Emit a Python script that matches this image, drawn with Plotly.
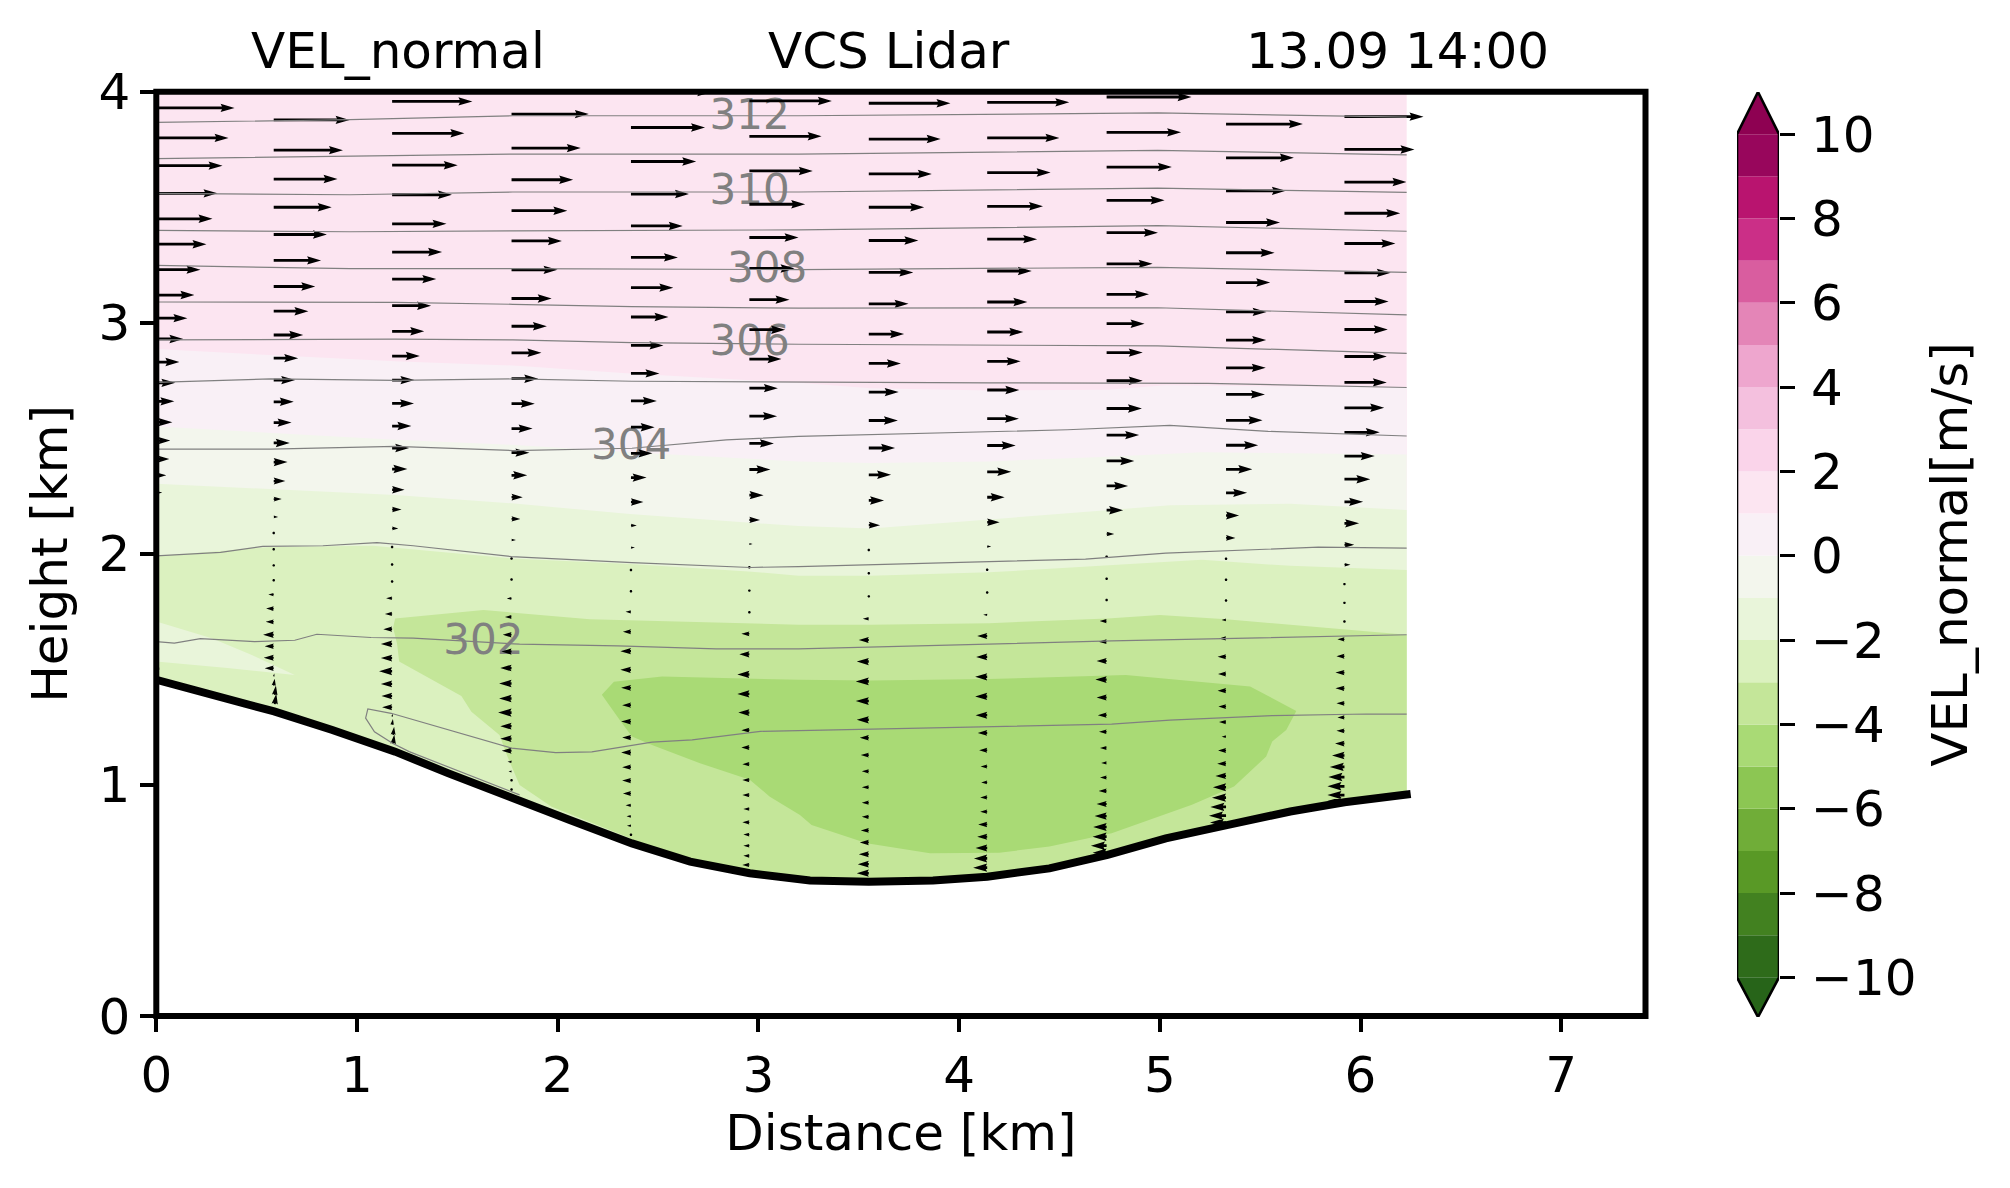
import math
import plotly.graph_objects as go

# ---------- axes ----------
x_ticks = [0, 1, 2, 3, 4, 5, 6, 7]
y_ticks = [0, 1, 2, 3, 4]
x_limit = 7.42
y_limit = 4.0
cbar_ticks = [-10, -8, -6, -4, -2, 0, 2, 4, 6, 8, 10]
cbar_levels = list(range(-10, 11))
cbar_colors = ["#2e6b1a", "#428120", "#599926", "#70ad38", "#8cc653", "#a9da75", "#c4e699",
               "#dbf1bf", "#e9f5da", "#f3f6ed", "#f9f0f6", "#fce5f1", "#fad4ea", "#f4c0de",
               "#eea6ce", "#e485b7", "#d95d9f", "#cb2f87", "#b9146f", "#98065c"]
under_color = "#276419"
over_color = "#8e0152"

# ---------- terrain ----------
terrain_x = [0, .276, .587, .877, 1.19, 1.456, 1.77, 2.06, 2.37, 2.66, 2.957, 3.257, 3.55, 3.87, 4.14, 4.45, 4.74,
             5.03, 5.34, 5.65, 5.92, 6.25]
terrain_y = [1.455, 1.39, 1.318, 1.238, 1.144, 1.05, .942, .848, .747, .668, .618, .586, .581, .586, .603, .639,
             .697, .769, .827, .885, .925, .961]

# ---------- isotach boundaries, top of each band ----------
edge_x = 6.23
top_1_x = [0, 6.23]
top_1_y = [4.0, 4.0]
top_0to1_x = [0, 1.19, 1.777, 2.36, 3.2, 3.56, 4.15, 4.74, 5.03, 6.23]
top_0to1_y = [2.886, 2.833, 2.815, 2.78, 2.74, 2.717, 2.707, 2.71, 2.73, 2.72]
top_m1to0_x = [0, 1.19, 1.77, 2.36, 3.2, 3.56, 4.15, 4.74, 5.21, 6.23]
top_m1to0_y = [2.551, 2.494, 2.472, 2.44, 2.40, 2.393, 2.40, 2.42, 2.44, 2.43]
top_m2tom1_x = [0, 1.19, 1.77, 2.36, 3.2, 3.56, 4.15, 4.74, 5.05, 5.65, 6.23]
top_m2tom1_y = [2.303, 2.255, 2.219, 2.172, 2.12, 2.11, 2.149, 2.19, 2.21, 2.217, 2.19]
top_m3tom2_x = [0, .57, 1.08, 1.77, 2.36, 2.95, 3.2, 3.56, 4.15, 4.74, 5.21, 5.65, 6.23]
top_m3tom2_y = [1.99, 2.03, 2.035, 1.98, 1.956, 1.924, 1.905, 1.905, 1.92, 1.95, 1.974, 1.948, 1.93]
island_x = [0, .276, .476, .69, .367, 0]
island_y = [1.707, 1.635, 1.562, 1.476, 1.505, 1.534]
patch_m4_x = [1.19, 1.63, 2.16, 3.2, 3.56, 4.15, 4.74, 5.0, 5.33, 6.23, 6.23, 2.37, 2.36, 1.97, 1.81, 1.75, 1.71,
              1.57, 1.52, 1.21, 1.2, 1.18]
patch_m4_y = [1.72, 1.757, 1.717, 1.693, 1.693, 1.70, 1.72, 1.735, 1.717, 1.65, 0, 0, .77, .906, 1.0, 1.122,
              1.216, 1.317, 1.385, 1.534, 1.61, 1.68]
patch_m5_x = [2.22, 2.28, 2.52, 3.2, 3.56, 4.15, 4.83, 5.45, 5.68, 5.63, 5.56, 5.53, 5.37, 5.16, 4.76, 4.45, 4.2,
              3.855, 3.54, 3.265, 3.207, 3.057, 2.957, 2.709, 2.47, 2.37, 2.31]
patch_m5_y = [1.39, 1.447, 1.469, 1.455, 1.452, 1.458, 1.476, 1.426, 1.32, 1.238, 1.188, 1.123, .993, .914, .791,
              .733, .707, .704, .748, .827, .870, .949, 1.022, 1.094, 1.173, 1.21, 1.28]

# ---------- potential temperature contours ----------
theta_lines_x = [
    [0, .965, 1.777, 3.2, 4.99, 6.23],
    [0, .965, 1.777, 3.2, 4.99, 6.23],
    [0, .965, 1.777, 3.2, 4.99, 6.23],
    [0, .965, 1.777, 3.2, 4.99, 6.23],
    [0, .965, 1.777, 3.2, 4.99, 6.23],
    [0, .965, 1.19, 1.777, 2.37, 3.2, 4.99, 6.23],
    [0, 1.19, 1.777, 2.37, 3.2, 4.99, 6.23],
    [0, .57, 1.19, 1.777, 2.37, 3.2, 4.15, 5.24, 6.23],
    [0, .57, 1.19, 1.777, 2.37, 2.84, 3.2, 4.54, 5.05, 5.54, 6.23],
    [0, .32, .53, .83, 1.10, 1.28, 1.77, 2.37, 2.96, 3.2, 4.63, 5.03, 5.79, 6.23],
    [0, .09, .22, .49, .69, .8, 1.07, 1.28, 1.81, 2.3, 2.79, 3.2, 4.76, 6.23],
    [1.81, 1.26, 1.177, 1.087, 1.043, 1.054, 1.17, 1.77, 1.99, 2.17, 2.47, 2.67, 3.01, 3.2, 4.76, 5.05, 5.56, 6.03, 6.23],
]
theta_lines_y = [
    [3.867, 3.879, 3.896, 3.896, 3.908, 3.890],
    [3.71, 3.72, 3.73, 3.73, 3.746, 3.727],
    [3.56, 3.554, 3.566, 3.566, 3.583, 3.564],
    [3.40, 3.394, 3.398, 3.402, 3.42, 3.396],
    [3.248, 3.234, 3.234, 3.23, 3.24, 3.218],
    [3.09, 3.088, 3.088, 3.08, 3.07, 3.063, 3.065, 3.034],
    [2.926, 2.929, 2.926, 2.914, 2.907, 2.90, 2.868],
    [2.742, 2.757, 2.751, 2.757, 2.747, 2.743, 2.74, 2.738, 2.72],
    [2.453, 2.453, 2.465, 2.447, 2.457, 2.493, 2.508, 2.537, 2.556, 2.53, 2.51],
    [1.991, 2.006, 2.032, 2.035, 2.049, 2.035, 1.988, 1.962, 1.941, 1.945, 1.977, 2.003, 2.029, 2.025],
    [1.62, 1.614, 1.633, 1.62, 1.626, 1.652, 1.638, 1.635, 1.609, 1.602, 1.589, 1.589, 1.623, 1.65],
    [.957, 1.144, 1.18, 1.23, 1.289, 1.329, 1.31, 1.159, 1.14, 1.143, 1.185, 1.195, 1.232, 1.235, 1.263, 1.28, 1.3,
     1.307, 1.306],
]
theta_labels = ["312", "310", "308", "306", "304", "302"]
theta_label_x = [2.956, 2.956, 3.043, 2.956, 2.366, 1.63]
theta_label_y = [3.883, 3.561, 3.222, 2.904, 2.457, 1.612]

# ---------- wind arrows, one column per profile ----------
col_x = [0.01, .585, 1.175, 1.77, 2.365, 2.955, 3.55, 4.14, 4.735, 5.33, 5.92]
col_height = [
    [3.93, 3.80, 3.68, 3.56, 3.45, 3.34, 3.23, 3.12, 3.02, 2.93, 2.83, 2.74, 2.66, 2.57, 2.49, 2.41, 2.34, 2.265],
    [3.878, 3.747, 3.622, 3.50, 3.382, 3.27, 3.157, 3.05, 2.947, 2.847, 2.752, 2.658, 2.568, 2.48, 2.397, 2.315, 2.237,
     2.16, 2.09, 2.02, 1.95, 1.886, 1.824, 1.763, 1.706, 1.65, 1.6, 1.55, 1.505],
    [3.958, 3.82, 3.682, 3.554, 3.428, 3.306, 3.189, 3.074, 2.963, 2.856, 2.752, 2.651, 2.553, 2.458, 2.367, 2.277,
     2.192, 2.11, 2.03, 1.954, 1.88, 1.808, 1.74, 1.674, 1.61, 1.549, 1.492, 1.437, 1.385, 1.336],
    [3.903, 3.756, 3.619, 3.485, 3.354, 3.229, 3.105, 2.985, 2.87, 2.758, 2.65, 2.542, 2.438, 2.34, 2.245, 2.151, 2.06,
     1.98, 1.889, 1.807, 1.727, 1.65, 1.577, 1.506, 1.439, 1.374, 1.313, 1.254, 1.2, 1.148, 1.1, 1.058, 1.02, .98],
    [3.998, 3.845, 3.698, 3.557, 3.419, 3.283, 3.152, 3.025, 2.902, 2.781, 2.662, 2.548, 2.435, 2.33, 2.224, 2.123,
     2.027, 1.93, 1.838, 1.749, 1.663, 1.579, 1.498, 1.42, 1.345, 1.274, 1.205, 1.14, 1.077, 1.019, .963, .912, .864,
     .823, .784],
    [3.96, 3.807, 3.657, 3.513, 3.369, 3.235, 3.1, 2.97, 2.843, 2.717, 2.596, 2.478, 2.365, 2.254, 2.147, 2.043, 1.942,
     1.841, 1.747, 1.654, 1.565, 1.478, 1.394, 1.313, 1.237, 1.162, 1.09, 1.021, .956, .896, .838, .785, .737, .693,
     .654],
    [3.95, 3.795, 3.644, 3.5, 3.356, 3.218, 3.082, 2.951, 2.824, 2.7, 2.577, 2.458, 2.342, 2.231, 2.124, 2.017, 1.916,
     1.816, 1.719, 1.627, 1.534, 1.448, 1.363, 1.282, 1.204, 1.129, 1.059, .99, .923, .862, .803, .751, .7, .657, .618],
    [3.954, 3.8, 3.65, 3.504, 3.362, 3.224, 3.09, 2.96, 2.833, 2.709, 2.585, 2.469, 2.355, 2.245, 2.137, 2.032, 1.931,
     1.833, 1.736, 1.644, 1.554, 1.468, 1.383, 1.302, 1.225, 1.15, 1.08, 1.011, .946, .884, .829, .776, .727, .682,
     .642],
    [3.977, 3.824, 3.674, 3.53, 3.39, 3.255, 3.123, 2.996, 2.871, 2.749, 2.629, 2.514, 2.402, 2.294, 2.189, 2.086,
     1.988, 1.892, 1.8, 1.709, 1.62, 1.536, 1.456, 1.378, 1.302, 1.23, 1.16, 1.095, 1.032, .974, .917, .865, .818, .776,
     .737, .707],
    [3.86, 3.714, 3.571, 3.434, 3.303, 3.174, 3.047, 2.925, 2.805, 2.69, 2.578, 2.47, 2.366, 2.264, 2.166, 2.069, 1.979,
     1.888, 1.798, 1.714, 1.634, 1.555, 1.48, 1.408, 1.339, 1.272, 1.209, 1.149, 1.092, 1.039, .99, .945, .905, .867,
     .837],
    [3.892, 3.75, 3.609, 3.474, 3.343, 3.216, 3.092, 2.971, 2.854, 2.742, 2.632, 2.526, 2.423, 2.323, 2.225, 2.132,
     2.039, 1.953, 1.869, 1.788, 1.707, 1.63, 1.557, 1.486, 1.418, 1.353, 1.292, 1.234, 1.179, 1.127, 1.078, 1.034,
     .994, .956, .93],
]
col_u = [
    [.38, .35, .32, .295, .27, .24, .21, .18, .145, .125, .105, .085, .08, .07, .06, .055, .04, .02],
    [.378, .345, .318, .289, .265, .236, .207, .173, .147, .122, .107, .1, .089, .08, .069, .058, .04, .022, .003, 0,
     -.007, -.01, -.027, -.038, -.04, -.053, -.045, -.05, -.045],
    [.40, .36, .327, .298, .271, .249, .22, .194, .16, .138, .111, .109, .096, .085, .076, .062, .047, .031, 0, 0,
     -.003, -.03, -.036, -.044, -.056, -.056, -.065, -.056, -.053, -.05],
    [.385, .345, .307, .278, .251, .229, .2, .176, .149, .133, .116, .105, .089, .078, .056, .044, .022, 0, 0, -.024,
     -.033, -.044, -.051, -.056, -.062, -.062, -.067, -.056, -.056, -.049, -.02, -.015, -.01, 0],
    [.40, .369, .325, .289, .258, .234, .211, .187, .162, .142, .129, .118, .107, .078, .062, .029, .02, 0, 0, -.027,
     -.04, -.053, -.053, -.049, -.044, -.049, -.044, -.049, -.044, -.044, -.04, -.027, -.022, -.02, -.01],
    [.411, .36, .316, .278, .245, .225, .2, .178, .16, .142, .138, .122, .105, .071, .053, .016, 0, 0, -.01, -.04,
     -.05, -.06, -.06, -.055, -.04, -.04, -.035, -.035, -.035, -.03, -.035, -.03, -.03, -.03, -.035],
    [.407, .358, .314, .276, .247, .222, .198, .176, .16, .149, .145, .131, .111, .076, .056, .013, 0, -.005, -.03,
     -.05, -.06, -.065, -.065, -.06, -.045, -.04, -.035, -.035, -.035, -.035, -.04, -.045, -.05, -.055, -.06],
    [.409, .36, .316, .278, .249, .222, .2, .18, .167, .16, .158, .142, .12, .087, .062, .02, 0, -.005, -.02, -.05,
     -.055, -.06, -.06, -.058, -.047, -.04, -.033, -.03, -.035, -.035, -.045, -.05, -.058, -.066, -.07],
    [.423, .371, .325, .289, .256, .229, .211, .189, .18, .18, .176, .162, .138, .107, .082, .038, .01, 0, 0, -.035,
     -.04, -.05, -.056, -.05, -.044, -.038, -.033, -.027, -.033, -.04, -.05, -.06, -.067, -.07, -.078, -.07],
    [.383, .338, .298, .269, .242, .22, .202, .2, .198, .194, .182, .16, .131, .105, .065, .047, .009, 0, 0, -.022,
     -.035, -.042, -.04, -.042, -.038, -.035, -.022, -.04, -.044, -.053, -.065, -.07, -.078, -.085, -.08],
    [.394, .349, .309, .278, .254, .231, .22, .216, .211, .211, .198, .176, .151, .129, .093, .073, .049, .03, 0, 0,
     -.01, -.035, -.04, -.045, -.045, -.04, -.035, -.04, -.047, -.062, -.073, -.08, -.085, -.085, -.085],
]
# arrows close to the ground, which follow the slope
ground_x = [0.005, 0.005, 0.005, .585, .585, .59, .59, 1.175, 1.175, 1.18, 1.18]
ground_y = [1.56, 1.53, 1.50, 1.47, 1.43, 1.39, 1.35, 1.296, 1.26, 1.217, 1.178]
ground_u = [.006, .006, .006, .003, .005, .006, .008, .003, .004, .005, .006]
ground_v = [.02, .025, .03, .012, .03, .04, .045, .012, .025, .035, .04]

# ---------- drawing helpers ----------
PX_X = 200.7
PX_Y = 231.0
SHAFT = 2.8


def add_arrow(xs, ys, x0, y0, u, v):
    dx, dy = u * PX_X, v * PX_Y
    length = math.hypot(dx, dy)
    if length < SHAFT:
        r = 1.4
        pts = [(r * math.cos(i * math.pi / 3), r * math.sin(i * math.pi / 3)) for i in range(6)]
        ca, sa = 1.0, 0.0
    else:
        hl, ha, hw, w = 5 * SHAFT, 4.5 * SHAFT, 3 * SHAFT, SHAFT
        if length < hl:
            s = length / hl
            hl, ha, hw, w = hl * s, ha * s, hw * s, w * s
        pts = [(0, w / 2), (length - ha, w / 2), (length - hl, hw / 2), (length, 0),
               (length - hl, -hw / 2), (length - ha, -w / 2), (0, -w / 2)]
        ca, sa = dx / length, dy / length
    for px, py in pts + pts[:1]:
        xs.append(x0 + (px * ca - py * sa) / PX_X)
        ys.append(y0 + (px * sa + py * ca) / PX_Y)
    xs.append(None)
    ys.append(None)


def fill_trace(x, y, color, xaxis="x", yaxis="y"):
    return go.Scatter(x=x, y=y, mode="lines", fill="toself", fillcolor=color, line=dict(width=0),
                      hoverinfo="skip", showlegend=False, xaxis=xaxis, yaxis=yaxis)


def band(x, y, color):
    return fill_trace(list(x) + [edge_x, 0], list(y) + [0, 0], color)


fig = go.Figure()
fig.add_trace(band(top_1_x, top_1_y, cbar_colors[11]))
fig.add_trace(band(top_0to1_x, top_0to1_y, cbar_colors[10]))
fig.add_trace(band(top_m1to0_x, top_m1to0_y, cbar_colors[9]))
fig.add_trace(band(top_m2tom1_x, top_m2tom1_y, cbar_colors[8]))
fig.add_trace(band(top_m3tom2_x, top_m3tom2_y, cbar_colors[7]))
fig.add_trace(fill_trace(island_x, island_y, cbar_colors[8]))
fig.add_trace(fill_trace(patch_m4_x, patch_m4_y, cbar_colors[6]))
fig.add_trace(fill_trace(patch_m5_x, patch_m5_y, cbar_colors[5]))
# ground: everything below the terrain is blank
fig.add_trace(fill_trace(terrain_x + [terrain_x[-1], 0], terrain_y + [0, 0], "#ffffff"))

fig.add_trace(go.Scatter(x=theta_label_x, y=theta_label_y, mode="text", text=theta_labels,
                         textfont=dict(family="DejaVu Sans", size=42, color="#808080"),
                         hoverinfo="skip", showlegend=False))

arrow_x, arrow_y = [], []
for cx, heights, us in zip(col_x, col_height, col_u):
    for h, u in zip(heights, us):
        add_arrow(arrow_x, arrow_y, cx, h, u, 0.0)
for gx, gy, gu, gv in zip(ground_x, ground_y, ground_u, ground_v):
    add_arrow(arrow_x, arrow_y, gx, gy, gu, gv)
fig.add_trace(fill_trace(arrow_x, arrow_y, "#000000"))

for lx, ly in zip(theta_lines_x, theta_lines_y):
    fig.add_trace(go.Scatter(x=lx, y=ly, mode="lines", line=dict(color="#808080", width=1.2),
                             hoverinfo="skip", showlegend=False))

fig.add_trace(go.Scatter(x=terrain_x, y=terrain_y, mode="lines", line=dict(color="#000000", width=8),
                         hoverinfo="skip", showlegend=False))

# ---------- colour bar ----------
fig.add_trace(go.Bar(x=[0] * 20, y=[1] * 20, base=cbar_levels[:-1], width=1.0,
                     marker=dict(color=cbar_colors, line=dict(width=0)),
                     hoverinfo="skip", showlegend=False, xaxis="x2", yaxis="y2"))
tip_low = -10.94
tip_high = 11.0
fig.add_trace(fill_trace([-.5, 0, .5], [-10, tip_low, -10], under_color, "x2", "y2"))
fig.add_trace(fill_trace([-.5, 0, .5], [10, tip_high, 10], over_color, "x2", "y2"))
fig.add_trace(go.Scatter(x=[-.5, 0, .5, .5, 0, -.5, -.5], y=[-10, tip_low, -10, 10, tip_high, 10, -10],
                         mode="lines", line=dict(color="#000000", width=2.6), cliponaxis=False,
                         hoverinfo="skip", showlegend=False, xaxis="x2", yaxis="y2"))

FONT = "DejaVu Sans"
tick_font = dict(family=FONT, size=50, color="#000000")
W, H = 2010, 1188
fig.update_layout(
    width=W, height=H, autosize=False, margin=dict(l=0, r=0, t=0, b=0, pad=0),
    paper_bgcolor="#ffffff", plot_bgcolor="#ffffff", barmode="overlay", showlegend=False,
    font=dict(family=FONT, color="#000000"),
    xaxis=dict(domain=[156.3 / W, 1645.5 / W], range=[0, x_limit], tickvals=x_ticks, ticks="outside", ticklen=15,
               tickwidth=3.6, tickcolor="#000", tickfont=tick_font, showgrid=False, zeroline=False, showline=False,
               automargin=False, title=dict(text="Distance [km]", font=tick_font, standoff=8), anchor="y"),
    yaxis=dict(domain=[(H - 1016) / H, (H - 91.7) / H], range=[0, y_limit], tickvals=y_ticks, ticks="outside",
               ticklen=15, tickwidth=3.6, tickcolor="#000", tickfont=tick_font, showgrid=False, zeroline=False,
               automargin=False, showline=False, title=dict(text="Height [km]", font=tick_font, standoff=14),
               anchor="x"),
    xaxis2=dict(domain=[1737 / W, 1779 / W], range=[-.5, .5], visible=False, anchor="y2", automargin=False),
    yaxis2=dict(domain=[(H - 1017) / H, (H - 92) / H], range=[tip_low, tip_high], tickvals=cbar_ticks,
                ticks="outside", ticklen=15, tickwidth=2.6, tickcolor="#000", tickfont=tick_font, side="right",
                ticklabelstandoff=6, anchor="x2", showgrid=False, zeroline=False, showline=False, automargin=False,
                title=dict(text="VEL_normal[m/s]", font=tick_font, standoff=16)),
    shapes=[dict(type="rect", xref="x domain", yref="y domain", x0=0, x1=1, y0=0, y1=1,
                 line=dict(color="#000000", width=6), layer="above")],
    annotations=[
        dict(text="VEL_normal", x=1.204, xref="x", y=1, yref="y domain", yanchor="bottom", yshift=10,
             showarrow=False, font=tick_font),
        dict(text="VCS Lidar", x=3.65, xref="x", y=1, yref="y domain", yanchor="bottom", yshift=10,
             showarrow=False, font=tick_font),
        dict(text="13.09 14:00", x=6.185, xref="x", y=1, yref="y domain", yanchor="bottom", yshift=10,
             showarrow=False, font=tick_font),
    ],
)
fig.write_html("out.html", config={"displayModeBar": False},
               post_script="document.body.style.margin='0';")
